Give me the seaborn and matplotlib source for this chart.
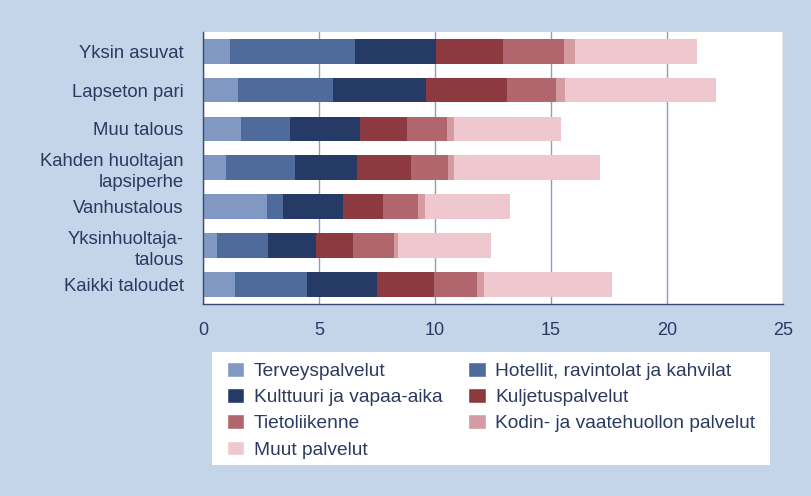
import pandas as pd
import seaborn as sns
import matplotlib.pyplot as plt
from matplotlib.patches import Rectangle, Patch
from matplotlib.ticker import MultipleLocator

# Data
taloudet = ["Yksin asuvat", "Lapseton pari", "Muu talous", "Kahden huoltajan\nlapsiperhe",
            "Vanhustalous", "Yksinhuoltaja-\ntalous", "Kaikki taloudet"]
palvelut = ["Terveyspalvelut", "Hotellit, ravintolat ja kahvilat", "Kulttuuri ja vapaa-aika",
            "Kuljetuspalvelut", "Tietoliikenne", "Kodin- ja vaatehuollon palvelut", "Muut palvelut"]

terveys = [1.15, 1.5, 1.65, 1.0, 2.75, 0.6, 1.4]
hotellit = [5.4, 4.1, 2.1, 2.95, 0.7, 2.2, 3.1]
kulttuuri = [3.5, 4.0, 3.0, 2.7, 2.6, 2.05, 3.0]
kuljetus = [2.9, 3.5, 2.05, 2.3, 1.7, 1.6, 2.45]
tieto = [2.6, 2.1, 1.7, 1.6, 1.5, 1.8, 1.85]
kodin = [0.5, 0.4, 0.3, 0.25, 0.3, 0.15, 0.3]
muut = [5.25, 6.5, 4.65, 6.3, 3.7, 4.0, 5.55]

varit = ["#8199c2", "#4f6b9b", "#253b66", "#8c3a40", "#b0666c", "#d49ba0", "#eec8ce"]
tausta = "#c4d4e9"
teksti = "#2a3a60"

df = pd.DataFrame({"talous": taloudet})
sarjat = [terveys, hotellit, kulttuuri, kuljetus, tieto, kodin, muut]
kum = 0
for nimi, arvot in zip(palvelut, sarjat):
    kum = kum + pd.Series(arvot)
    df[nimi] = kum

sns.set_style("white")
plt.rcParams['font.family'] = ['Liberation Sans', 'DejaVu Sans']

fig = plt.figure(figsize=(8.11, 4.96), dpi=100, facecolor=tausta)
ax = fig.add_axes([203 / 811, 1 - 304 / 496, 580 / 811, (304 - 31.7) / 496])
ax.set_facecolor("white")

# pinotut palkit: kumulatiiviset summat suurimmasta alkaen
for nimi, vari in reversed(list(zip(palvelut, varit))):
    sns.barplot(data=df, y="talous", x=nimi, color=vari, width=0.64, orient="h",
                order=taloudet, ax=ax, saturation=1, linewidth=0)

ax.set_xlim(0, 25)
ax.set_ylim(6.5, -0.5)
ax.set_xlabel("")
ax.set_ylabel("")
ax.xaxis.set_major_locator(MultipleLocator(5))
ax.xaxis.set_minor_locator(MultipleLocator(1))
ax.xaxis.grid(True, color="#8e9ebd", lw=1)
ax.set_axisbelow(True)
for s in ["top", "right"]:
    ax.spines[s].set_visible(False)
for s in ["left", "bottom"]:
    ax.spines[s].set_color("#3a4a78")
    ax.spines[s].set_linewidth(1)
ax.tick_params(axis="x", which="major", length=7, color="#3a4a78", labelcolor=teksti,
               labelsize=13, pad=6)
ax.tick_params(axis="x", which="minor", length=3, color="#3a4a78")
ax.tick_params(axis="y", length=5, color="#3a4a78", labelcolor=teksti, labelsize=13.3, pad=9)
for t in ax.get_yticklabels():
    t.set_linespacing(1.3)
    t.set_multialignment("right")

# selitelaatikko
fig.patches.append(Rectangle((212 / 811, 1 - 465 / 496), 558 / 811, 113 / 496,
                             transform=fig.transFigure, facecolor="white", edgecolor="none",
                             zorder=0))
jarj = [0, 2, 4, 6, 1, 3, 5]
kahvat = [Patch(facecolor=varit[i], label=palvelut[i]) for i in jarj]
fig.legend(handles=kahvat, loc="upper left", bbox_to_anchor=(227 / 811, 1 - 362 / 496),
           ncol=2, frameon=False, fontsize=13.8, labelcolor=teksti, handlelength=0.9,
           handleheight=0.8, handletextpad=0.5, labelspacing=0.43, columnspacing=1.35,
           borderpad=0, borderaxespad=0)

fig.savefig("out.png", dpi=100, facecolor=tausta)
